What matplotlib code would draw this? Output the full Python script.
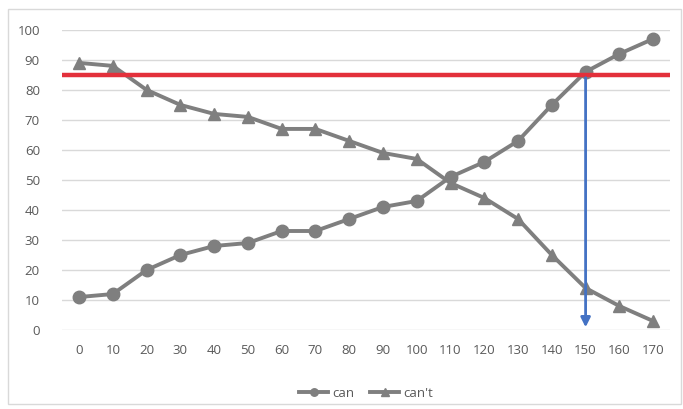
import matplotlib.pyplot as plt
import numpy as np

# data
x_labels = [str(v) for v in range(0, 171, 10)]
can = [11, 12, 20, 25, 28, 29, 33, 33, 37, 41, 43, 51, 56, 63, 75, 86, 92, 97]
cant = [89, 88, 80, 75, 72, 71, 67, 67, 63, 59, 57, 49, 44, 37, 25, 14, 8, 3]
threshold = 85
cross_label = '150'

plt.rcParams['font.family'] = ['Open Sans', 'DejaVu Sans']

fig = plt.figure(figsize=(6.83, 4.09), dpi=100)
ax = fig.add_axes([0.091, 0.193, 0.890, 0.734])

# outer chart border
fig.patches.append(plt.Rectangle((0.012, 0.012), 0.985, 0.965, transform=fig.transFigure,
                                 fill=False, edgecolor='#d9d9d9', linewidth=1))

xs = np.arange(len(x_labels))
grey = '#7f7f7f'
ax.plot(xs, can, color=grey, linewidth=2.8, marker='o', markersize=9, label='can', zorder=3)
ax.plot(xs, cant, color=grey, linewidth=2.8, marker='^', markersize=9, label="can't", zorder=3)

# threshold line and arrow
ax.axhline(threshold, color='#e3303b', linewidth=3.2, zorder=4)
xi = x_labels.index(cross_label)
ax.annotate('', xy=(xi, 0), xytext=(xi, threshold),
            arrowprops=dict(arrowstyle='-|>', color='#4472c4', linewidth=2, mutation_scale=14),
            zorder=5)

ax.set_xlim(-0.5, len(x_labels) - 0.5)
ax.set_ylim(0, 100)
ax.set_xticks(xs)
ax.set_xticklabels(x_labels)
ax.set_yticks(np.arange(0, 101, 10))
ax.grid(axis='y', color='#d9d9d9', linewidth=1)
ax.set_axisbelow(True)
for s in ax.spines.values():
    s.set_visible(False)
ax.tick_params(length=0, labelsize=9.5, colors='#595959', pad=10)
ax.tick_params(axis='y', pad=16)

ax.legend(loc='upper center', bbox_to_anchor=(0.5, -0.15), ncol=2, frameon=False,
          fontsize=9.5, labelcolor='#595959', handlelength=2.2, markerscale=0.6,
          columnspacing=1.2, handletextpad=0.3)

fig.savefig('out.png', dpi=100)
